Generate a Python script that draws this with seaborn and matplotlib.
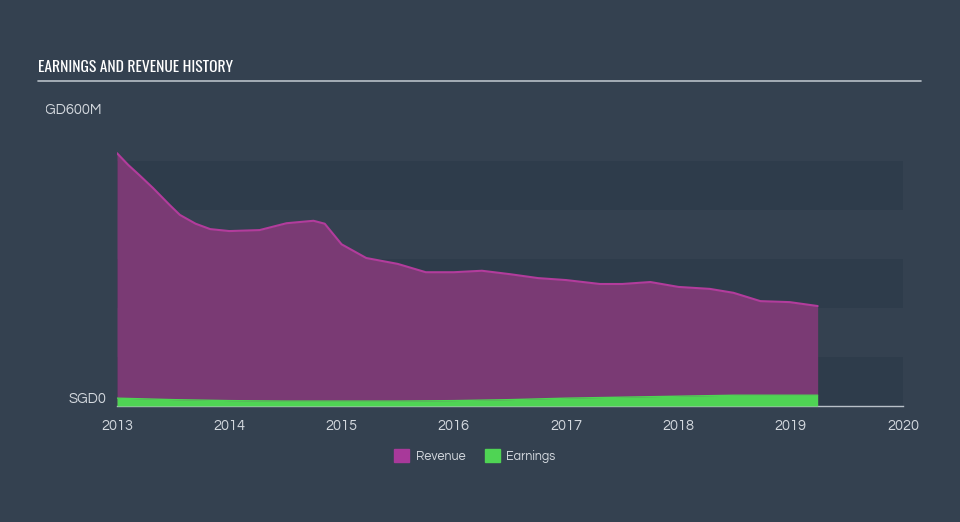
import matplotlib
matplotlib.use("Agg")
import matplotlib.pyplot as plt
import matplotlib.transforms as mtransforms
import seaborn as sns
import pandas as pd
from matplotlib.patches import Patch

# ---- data ----
rev_t = [2013.0, 2013.1, 2013.2, 2013.32, 2013.47, 2013.56, 2013.7, 2013.83, 2014.0,
         2014.27, 2014.51, 2014.75, 2014.85, 2015.0, 2015.22, 2015.5, 2015.75, 2016.0,
         2016.25, 2016.5, 2016.75, 2017.0, 2017.3, 2017.5, 2017.75, 2018.0, 2018.28,
         2018.49, 2018.73, 2018.99, 2019.24]
revenue = [516, 492, 471, 445, 410, 390, 372, 361, 357,
           359, 373, 378, 372, 330, 302, 290, 273, 273,
           276, 269, 261, 257, 249, 249, 253, 243, 239,
           231, 214, 212, 204]
earn_t = [2013.0, 2013.5, 2014.0, 2014.5, 2015.0, 2015.5, 2016.0, 2016.5, 2017.0,
          2017.5, 2018.0, 2018.5, 2019.0, 2019.24]
earnings = [16, 13, 11, 10, 10, 10, 11, 13, 16, 18, 20, 22, 22, 22]
year_ticks = [2013, 2014, 2015, 2016, 2017, 2018, 2019, 2020]
y_labels = {0: "SGD0", 600: "SGD600M"}
title = "EARNINGS AND REVENUE HISTORY"

rev_df = pd.DataFrame({"t": rev_t, "v": revenue})
earn_df = pd.DataFrame({"t": earn_t, "v": earnings})

BG = "#344150"
BAND = "#2e3c4b"
REV_FILL = "#7a3a74"
REV_LINE = "#b23c9c"
EARN = "#4fd454"
TXT = "#d3d8de"

sns.set_theme(style="white")
plt.rcParams['font.family'] = ['Questrial', 'DejaVu Sans']

fig = plt.figure(figsize=(9.6, 5.22), dpi=100, facecolor=BG)
ax = fig.add_axes([117/960, 1-406/522, (903-117)/960, (406-112)/522])
ax.set_facecolor(BG)

for lo in (0, 200, 400):
    ax.axhspan(lo, lo+100, color=BAND, lw=0, zorder=0)

ax.fill_between(rev_df["t"], 0, rev_df["v"], color=REV_FILL, lw=0, zorder=2)
sns.lineplot(data=rev_df, x="t", y="v", ax=ax, color=REV_LINE, lw=1.5, zorder=3)
ax.fill_between(earn_df["t"], 0, earn_df["v"], color=EARN, lw=0, zorder=4)
sns.lineplot(data=earn_df, x="t", y="v", ax=ax, color=EARN, lw=1, zorder=4)

ax.set_xlim(2013, 2020)
ax.set_ylim(0, 600)
ax.set_xlabel("")
ax.set_ylabel("")
ax.set_yticks([])
ax.set_xticks(year_ticks)
ax.set_xticklabels([str(y) for y in year_ticks], color=TXT, fontsize=10.5)
ax.tick_params(axis="x", direction="out", length=6, width=1, color="#b8c0c8", pad=3)
for s in ("top", "left", "right"):
    ax.spines[s].set_visible(False)
ax.spines["bottom"].set_color("#b8c0c8")
ax.spines["bottom"].set_linewidth(1)

# y labels
ax.text(-0.013, 0, y_labels[0], transform=mtransforms.blended_transform_factory(ax.transAxes, ax.transData),
        ha="right", va="bottom", color=TXT, fontsize=10.5)
t600 = fig.text(102/960, 1-110/522, y_labels[600], ha="right", va="center", color=TXT, fontsize=10.5)
t600.set_clip_box(mtransforms.TransformedBbox(mtransforms.Bbox.from_extents(46/960, 0, 1, 1), fig.transFigure))
t600.set_clip_on(True)

# title
fig.text(38/960, 1-68/522, title, ha="left", va="center", color="white", fontsize=11.2,
         fontweight="bold", family=["Oswald", "DejaVu Sans"])
fig.add_artist(plt.Line2D([38/960, 921/960], [1-81/522, 1-81/522], color="#b8c0c8", lw=1.2))

handles = [Patch(color="#a8399a", label="Revenue"), Patch(color=EARN, label="Earnings")]
fig.legend(handles=handles, loc="center", bbox_to_anchor=(475/960, 1-456/522), ncol=2, frameon=False,
           labelcolor=TXT, fontsize=9, handlelength=1.2, handleheight=1.2, columnspacing=1.6,
           handletextpad=0.5)

fig.savefig("out.png", dpi=100, facecolor=BG)
